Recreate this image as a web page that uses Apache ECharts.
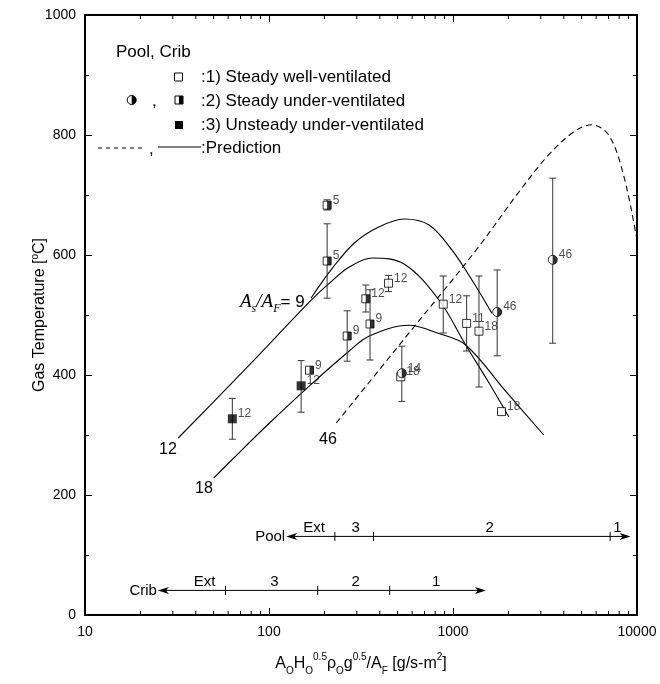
<!DOCTYPE html>
<html><head><meta charset="utf-8">
<script src="https://cdn.jsdelivr.net/npm/echarts@6/dist/echarts.min.js"></script>
<style>html,body{margin:0;padding:0;background:#fff}#c{width:660px;height:684px}</style>
</head><body><div id="c"></div>
<script>
// ---------- data ----------
const xTickValues = [10, 100, 1000, 10000];
const xMinorValues = [20,30,40,50,60,70,80,90,200,300,400,500,600,700,800,900,2000,3000,4000,5000,6000,7000,8000,9000];
const yTickValues = [0, 200, 400, 600, 800, 1000];

// 1) Steady well-ventilated (open squares)
const wellX   = [446, 885, 1186, 1384, 1835, 520];
const wellY   = [553, 518, 486, 473, 339, 397];
const wellLo  = [539, 470, 440, 380, null, null];
const wellHi  = [566, 565, 532, 565, null, null];
const wellLab = ['12', '12', '11', '18', '18', '18'];

// 2) Steady under-ventilated, crib (half-filled squares)
const cribUX   = [207, 207, 166, 266, 354, 336];
const cribUY   = [683, 590, 408, 465, 485, 527];
const cribULo  = [675, 528, null, 423, 425, 505];
const cribUHi  = [692, 652, null, 507, 542, 550];
const cribULab = ['5', '5', '9', '9', '9', '12'];

// 2) Steady under-ventilated, pool (half-filled circles)
const poolUX   = [527, 1738, 3484];
const poolUY   = [403, 505, 592];
const poolULo  = [356, 432, 453];
const poolUHi  = [448, 575, 728];
const poolULab = ['14', '46', '46'];

// 3) Unsteady under-ventilated (filled squares)
const unstX   = [63.2, 149.5];
const unstY   = [327, 382];
const unstLo  = [293, 338];
const unstHi  = [361, 424];
const unstLab = ['12', '12'];

// Prediction curves (A_s/A_F = 9, 12, 18 solid; 46 dashed)
const pred9X  = [169, 221, 291, 397, 542, 741, 988, 1300, 1626];
const pred9Y  = [528, 578, 620, 647, 660, 650, 608, 553, 503];
const pred12X = [32.1, 63.5, 100.6, 166, 213, 273, 364, 542, 839, 1172, 1567, 2012];
const pred12Y = [295, 388, 452, 522, 553, 580, 595, 585, 525, 450, 387, 330];
const pred18X = [50, 63.5, 100.6, 166, 273, 351, 577, 839, 1172, 1932, 3112];
const pred18Y = [228, 260, 320, 382, 440, 465, 483, 469, 450, 373, 300];
const pred46X = [232, 556, 1334, 2281, 3311, 4529, 5666, 7015, 8455, 10000];
const pred46Y = [320, 464, 608, 705, 767, 805, 817, 800, 733, 625];

// Combustion regime bars
const poolBounds  = [124, 228, 370, 7146, 9230];
const poolRegimes = ['Ext', '3', '2', '1'];
const poolRegimeX = [176, 296, 1581, 7815];
const cribBounds  = [24.9, 58, 184, 453, 1510];
const cribRegimes = ['Ext', '3', '2', '1'];
const cribRegimeX = [44.6, 107, 296, 809];
const rowNames = ['Pool', 'Crib'];

// ---------- chart ----------
const FONT = '"Liberation Sans", Arial, Helvetica, sans-serif';
const SERIF = '"Liberation Serif", "Times New Roman", serif';
const chart = echarts.init(document.getElementById('c'));

const pairs = (xs, ys) => xs.map((x, i) => [x, ys[i]]);
const named = (xs, ys, labs) => xs.map((x, i) => ({ value: [x, ys[i]], name: labs[i] }));
const bars = (xs, lo, hi) => xs.map((x, i) => [x, lo[i], hi[i]]).filter(d => d[1] != null && d[2] != null);

const errData = [].concat(bars(wellX, wellLo, wellHi), bars(cribUX, cribULo, cribUHi),
                          bars(poolUX, poolULo, poolUHi), bars(unstX, unstLo, unstHi));

const ptLabel = { show: true, position: 'right', distance: 1, offset: [0, -5], formatter: '{b}',
                  fontSize: 12, color: '#222', fontFamily: FONT };

const rowLevels = [131, 41];
const rows = [
  { name: rowNames[0], b: poolBounds, labs: poolRegimes, lx: poolRegimeX },
  { name: rowNames[1], b: cribBounds, labs: cribRegimes, lx: cribRegimeX }
];

function arrowHead(tip, dir) {
  const x = tip[0], y = tip[1];
  return { type: 'polygon', shape: { points: [[x, y], [x - dir * 11, y - 3.5], [x - dir * 8, y], [x - dir * 11, y + 3.5]] },
           style: { fill: '#000' } };
}

function rowItem(params, api) {
  const r = rows[params.dataIndex];
  const lvl = api.value(1);
  const L = api.coord([r.b[0], lvl]);
  const R = api.coord([r.b[r.b.length - 1], lvl]);
  const ch = [];
  ch.push({ type: 'line', shape: { x1: L[0] + 4, y1: L[1], x2: R[0] - 4, y2: R[1] }, style: { stroke: '#000', lineWidth: 1 } });
  ch.push(arrowHead(L, -1));
  ch.push(arrowHead(R, 1));
  for (let k = 1; k < r.b.length - 1; k++) {
    const p = api.coord([r.b[k], lvl]);
    ch.push({ type: 'line', shape: { x1: p[0], y1: p[1] - 4.5, x2: p[0], y2: p[1] + 4.5 }, style: { stroke: '#000', lineWidth: 1 } });
  }
  r.labs.forEach((t, k) => {
    const p = api.coord([r.lx[k], lvl]);
    ch.push({ type: 'text', x: p[0], y: p[1] - 9, style: { text: t, fill: '#000', fontSize: 15, fontFamily: FONT, align: 'center', verticalAlign: 'middle' } });
  });
  ch.push({ type: 'text', x: L[0] - 1, y: L[1], style: { text: r.name, fill: '#000', fontSize: 15, fontFamily: FONT, align: 'right', verticalAlign: 'middle' } });
  return { type: 'group', children: ch };
}

function errItem(params, api) {
  const x = api.value(0);
  const p1 = api.coord([x, api.value(1)]);
  const p2 = api.coord([x, api.value(2)]);
  const w = 3.5, st = { stroke: '#333', lineWidth: 1 };
  return { type: 'group', children: [
    { type: 'line', shape: { x1: p1[0], y1: p1[1], x2: p2[0], y2: p2[1] }, style: st },
    { type: 'line', shape: { x1: p1[0] - w, y1: p1[1], x2: p1[0] + w, y2: p1[1] }, style: st },
    { type: 'line', shape: { x1: p2[0] - w, y1: p2[1], x2: p2[0] + w, y2: p2[1] }, style: st }
  ]};
}

function minorItem(params, api) {
  const v = api.value(0);
  const b = api.coord([v, 0]);
  const t = api.coord([v, 1000]);
  const st = { stroke: '#000', lineWidth: 1 };
  return { type: 'group', children: [
    { type: 'line', shape: { x1: b[0], y1: b[1], x2: b[0], y2: b[1] - 4 }, style: st },
    { type: 'line', shape: { x1: t[0], y1: t[1], x2: t[0], y2: t[1] + 4 }, style: st }
  ]};
}

const curveStyle = { color: '#000', width: 1.1 };
const axisCommon = {
  axisLine: { show: true, onZero: false, lineStyle: { color: '#000', width: 2 } },
  axisTick: { show: true, inside: true, length: 7, lineStyle: { color: '#000', width: 1 } },
  splitLine: { show: false }
};

const option = {
  animation: false,
  backgroundColor: '#fff',
  grid: { left: 85, right: 23, top: 15, bottom: 69, containLabel: false },
  xAxis: [
    Object.assign({ type: 'log', logBase: 10, min: 10, max: 10000, position: 'bottom',
      axisLabel: { show: true, margin: 10, fontSize: 14, color: '#000', fontFamily: FONT,
                   formatter: v => String(Math.round(v)) } }, axisCommon),
    Object.assign({ type: 'log', logBase: 10, min: 10, max: 10000, position: 'top', axisLabel: { show: false } }, axisCommon)
  ],
  yAxis: [
    Object.assign({ type: 'value', min: 0, max: 1000, interval: 200, position: 'left',
      minorTick: { show: true, splitNumber: 2, length: 4, lineStyle: { color: '#000' } },
      axisLabel: { show: true, margin: 9, fontSize: 14, color: '#000', fontFamily: FONT,
                   formatter: v => String(v) } }, axisCommon),
    Object.assign({ type: 'value', min: 0, max: 1000, interval: 200, position: 'right',
      minorTick: { show: true, splitNumber: 2, length: 4, lineStyle: { color: '#000' } },
      axisLabel: { show: false } }, axisCommon)
  ],
  series: [
    { type: 'custom', name: 'minor', renderItem: minorItem, data: xMinorValues.map(v => [v, 0]), encode: { x: 0, y: 1 }, clip: false, silent: true, z: 5 },
    { type: 'line', name: '9', data: pairs(pred9X, pred9Y), smooth: 0.35, showSymbol: false, lineStyle: curveStyle, z: 2 },
    { type: 'line', name: '12', data: pairs(pred12X, pred12Y), smooth: 0.35, showSymbol: false, lineStyle: curveStyle, z: 2 },
    { type: 'line', name: '18', data: pairs(pred18X, pred18Y), smooth: 0.35, showSymbol: false, lineStyle: curveStyle, z: 2 },
    { type: 'line', name: '46', data: pairs(pred46X, pred46Y), smooth: 0.35, showSymbol: false,
      lineStyle: { color: '#000', width: 1.1, type: [6, 4] }, z: 2 },
    { type: 'custom', name: 'err', renderItem: errItem, data: errData, encode: { x: 0, y: [1, 2] }, z: 3 },
    { type: 'custom', name: 'rows', renderItem: rowItem, data: rowLevels.map((l, i) => [rows[i].b[0], l]), encode: { x: 0, y: 1 }, clip: false, z: 3 },
    { type: 'scatter', data: named(wellX, wellY, wellLab), symbol: 'rect', symbolSize: 8,
      itemStyle: { color: '#fff', borderColor: '#000', borderWidth: 1 }, label: ptLabel, z: 4 },
    { type: 'scatter', data: named(cribUX, cribUY, cribULab), symbol: 'rect', symbolSize: 8,
      itemStyle: { color: '#fff', borderColor: '#000', borderWidth: 1 }, label: ptLabel, z: 4 },
    { type: 'scatter', data: pairs(cribUX, cribUY), symbol: 'rect', symbolSize: [4, 8], symbolOffset: [2, 0],
      itemStyle: { color: '#000' }, z: 5 },
    { type: 'scatter', data: named(poolUX, poolUY, poolULab), symbol: 'circle', symbolSize: 9,
      itemStyle: { color: '#fff', borderColor: '#000', borderWidth: 1 }, label: ptLabel, z: 4 },
    { type: 'scatter', data: pairs(poolUX, poolUY), symbol: 'path://M0,0 A10,10 0 0 1 0,20 Z', symbolSize: [4.5, 9], symbolOffset: [2.25, 0],
      itemStyle: { color: '#000' }, z: 5 },
    { type: 'scatter', data: named(unstX, unstY, unstLab), symbol: 'rect', symbolSize: 9,
      itemStyle: { color: '#000', borderColor: '#000', borderWidth: 0 }, label: ptLabel, z: 4 }
  ],
  graphic: [
    { type: 'text', x: 40, y: 315, rotation: Math.PI / 2, style: {
        text: 'Gas Temperature [{sup|o}C]', fill: '#000', fontSize: 16, fontFamily: FONT, align: 'center', verticalAlign: 'middle',
        rich: { sup: { fontSize: 10, fontFamily: FONT, verticalAlign: 'top', lineHeight: 20 } } } },
    { type: 'text', x: 361, y: 664, style: {
        text: 'A{sub|O}H{sub|O}{sup|0.5}ρ{sub|O}g{sup|0.5}/A{sub|F} [g/s-m{sup|2}]',
        fill: '#000', fontSize: 16, fontFamily: FONT, align: 'center', verticalAlign: 'middle', lineHeight: 24,
        rich: { sub: { fontSize: 10, fontFamily: FONT, verticalAlign: 'bottom', lineHeight: 10 },
                sup: { fontSize: 10, fontFamily: FONT, verticalAlign: 'top', lineHeight: 10 } } } },
    { type: 'text', x: 168, y: 450, style: { text: '12', fill: '#000', fontSize: 16, fontFamily: FONT, align: 'center', verticalAlign: 'middle' } },
    { type: 'text', x: 204, y: 489, style: { text: '18', fill: '#000', fontSize: 16, fontFamily: FONT, align: 'center', verticalAlign: 'middle' } },
    { type: 'text', x: 328, y: 440, style: { text: '46', fill: '#000', fontSize: 16, fontFamily: FONT, align: 'center', verticalAlign: 'middle' } },
    { type: 'text', x: 240, y: 302, style: {
        text: '{i|A}{s|s}{i|/A}{s|F}{n|= 9}', fill: '#000', align: 'left', verticalAlign: 'middle', lineHeight: 26,
        rich: { i: { fontSize: 19, fontFamily: SERIF, fontStyle: 'italic', lineHeight: 26, verticalAlign: 'middle' },
                s: { fontSize: 12, fontFamily: SERIF, fontStyle: 'italic', verticalAlign: 'bottom', lineHeight: 12 },
                n: { fontSize: 17, fontFamily: FONT, lineHeight: 26, verticalAlign: 'middle' } } } },
    { type: 'text', x: 116, y: 52, style: { text: 'Pool, Crib', fill: '#000', fontSize: 17, fontFamily: FONT, verticalAlign: 'middle' } },
    { type: 'rect', shape: { x: 174.5, y: 73, width: 8, height: 8 }, style: { fill: '#fff', stroke: '#000', lineWidth: 1 } },
    { type: 'text', x: 201, y: 77, style: { text: ':1) Steady well-ventilated', fill: '#000', fontSize: 17, fontFamily: FONT, verticalAlign: 'middle' } },
    { type: 'circle', shape: { cx: 131.7, cy: 100, r: 4.5 }, style: { fill: '#fff', stroke: '#000', lineWidth: 1 } },
    { type: 'sector', shape: { cx: 131.7, cy: 100, r0: 0, r: 4.5, startAngle: -Math.PI / 2, endAngle: Math.PI / 2, clockwise: true }, style: { fill: '#000' } },
    { type: 'text', x: 152, y: 101, style: { text: ',', fill: '#000', fontSize: 17, fontFamily: FONT, verticalAlign: 'middle' } },
    { type: 'rect', shape: { x: 175, y: 96, width: 8, height: 8 }, style: { fill: '#fff', stroke: '#000', lineWidth: 1 } },
    { type: 'rect', shape: { x: 179, y: 96, width: 4, height: 8 }, style: { fill: '#000' } },
    { type: 'text', x: 201, y: 101, style: { text: ':2) Steady under-ventilated', fill: '#000', fontSize: 17, fontFamily: FONT, verticalAlign: 'middle' } },
    { type: 'rect', shape: { x: 175, y: 121, width: 8, height: 8 }, style: { fill: '#000' } },
    { type: 'text', x: 201, y: 125, style: { text: ':3) Unsteady under-ventilated', fill: '#000', fontSize: 17, fontFamily: FONT, verticalAlign: 'middle' } },
    { type: 'line', shape: { x1: 98, y1: 148, x2: 146, y2: 148 }, style: { stroke: '#000', lineWidth: 1, lineDash: [4, 4] } },
    { type: 'text', x: 149, y: 149, style: { text: ',', fill: '#000', fontSize: 17, fontFamily: FONT, verticalAlign: 'middle' } },
    { type: 'line', shape: { x1: 158, y1: 147, x2: 201, y2: 147 }, style: { stroke: '#000', lineWidth: 1 } },
    { type: 'text', x: 201, y: 148, style: { text: ':Prediction', fill: '#000', fontSize: 17, fontFamily: FONT, verticalAlign: 'middle' } }
  ]
};
chart.setOption(option);
</script>
</body></html>
